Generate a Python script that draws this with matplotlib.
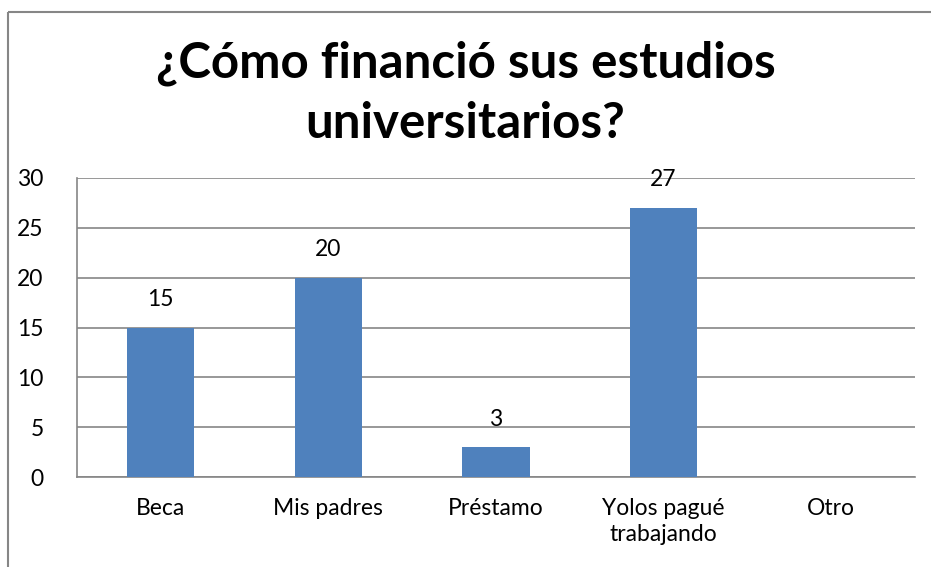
import matplotlib
matplotlib.use("Agg")
import matplotlib.pyplot as plt
from matplotlib.lines import Line2D

categories = ["Beca", "Mis padres", "Préstamo", "Yolos pagué\ntrabajando", "Otro"]
values = [15, 20, 3, 27, 0]
yticks = [0, 5, 10, 15, 20, 25, 30]
title = "¿Cómo financió sus estudios\nuniversitarios?"

plt.rcParams['font.family'] = ['Lato', 'DejaVu Sans']

W, H = 931, 567
fig = plt.figure(figsize=(W/100, H/100), dpi=100)
fig.patch.set_facecolor("white")
fig.patch.set_edgecolor("white")
fig.patch.set_linewidth(0)

# outer chart border: only top and left edges are inside the image
bx, by = 8/W, 1 - 12/H
fig.add_artist(Line2D([bx, 1.0], [by, by], transform=fig.transFigure, color="#868686",
                      linewidth=1.5, solid_capstyle="butt"))
fig.add_artist(Line2D([bx, bx], [0.0, by], transform=fig.transFigure, color="#868686",
                      linewidth=1.5, solid_capstyle="butt"))

ax = fig.add_axes([77/W, 1 - 477/H, (915-77)/W, (477-178)/H])
x = list(range(len(categories)))
ax.bar(x, values, width=0.4, color="#4F81BD", zorder=3)
for xi, v in zip(x, values):
    if v > 0:
        ax.text(xi, v + 2.8, str(v), ha="center", va="center", fontsize=16.5, color="black", zorder=4)

ax.set_xlim(-0.5, len(categories) - 0.5)
ax.set_ylim(0, 30)
ax.set_yticks(yticks)
ax.set_yticklabels([str(t) for t in yticks], fontsize=16.5)
ax.set_xticks(x)
ax.set_xticklabels(categories, fontsize=16.5, linespacing=1.3, va="top")
ax.yaxis.grid(True, color="#868686", linewidth=1.2, zorder=0)
for s in ["top", "right"]:
    ax.spines[s].set_visible(False)
for s in ["left", "bottom"]:
    ax.spines[s].set_color("#868686")
    ax.spines[s].set_linewidth(1.2)
ax.tick_params(axis="both", length=0)
ax.tick_params(axis="x", pad=15)
ax.tick_params(axis="y", pad=24)

fig.text(0.5, 1 - 93/H, title, ha="center", va="center", fontsize=35.5, fontweight="bold",
         linespacing=1.4)

fig.savefig("out.png", dpi=100)
